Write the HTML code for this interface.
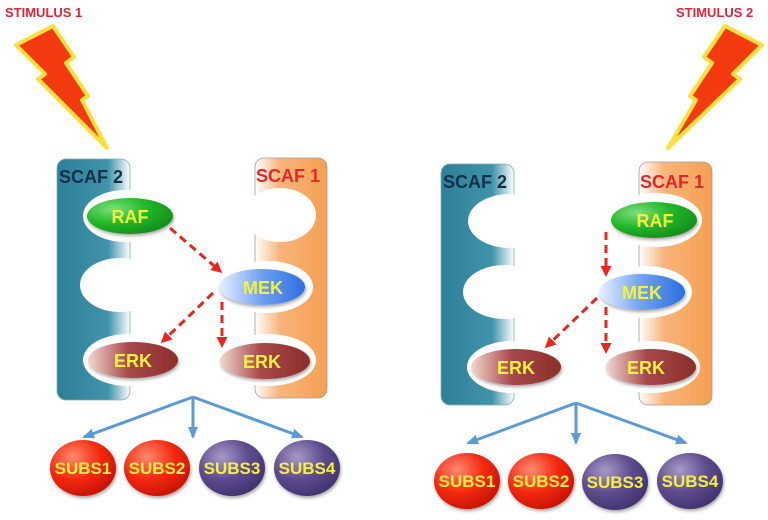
<!DOCTYPE html>
<html><head><meta charset="utf-8"><style>
html,body{margin:0;padding:0;background:#fff;}
svg{display:block;}
text{font-family:"Liberation Sans",sans-serif;font-weight:bold;}
</style></head><body>
<svg width="768" height="520" viewBox="0 0 768 520" xmlns="http://www.w3.org/2000/svg">
<defs>
<linearGradient id="teal" x1="0" x2="1" y1="0" y2="0">
<stop offset="0" stop-color="#2e7f98"/><stop offset="0.7" stop-color="#3f93aa"/><stop offset="1" stop-color="#ffffff"/></linearGradient>
<linearGradient id="orange" x1="0" x2="1" y1="0" y2="0">
<stop offset="0" stop-color="#ffffff"/><stop offset="0.35" stop-color="#f8b47a"/><stop offset="1" stop-color="#f4a052"/></linearGradient>
<radialGradient id="green" cx="0.3" cy="0.3" r="0.8"><stop offset="0" stop-color="#7be07b"/><stop offset="0.5" stop-color="#22b82a"/><stop offset="1" stop-color="#128a18"/></radialGradient>
<linearGradient id="blue" x1="0" x2="1"><stop offset="0" stop-color="#e8f0ff"/><stop offset="0.5" stop-color="#6ea0f0"/><stop offset="1" stop-color="#2c6ee0"/></linearGradient>
<linearGradient id="brown" x1="0" x2="1"><stop offset="0" stop-color="#f0d8d0"/><stop offset="0.45" stop-color="#a8484a"/><stop offset="1" stop-color="#8a2f2a"/></linearGradient>
<radialGradient id="red" cx="0.35" cy="0.3" r="0.8"><stop offset="0" stop-color="#ff8a70"/><stop offset="0.5" stop-color="#f42a10"/><stop offset="1" stop-color="#c01000"/></radialGradient>
<radialGradient id="purple" cx="0.35" cy="0.3" r="0.8"><stop offset="0" stop-color="#a898c8"/><stop offset="0.5" stop-color="#5e4c8e"/><stop offset="1" stop-color="#3e2e6a"/></radialGradient>
<marker id="ra" markerWidth="11" markerHeight="11" refX="8" refY="5.5" orient="auto" markerUnits="userSpaceOnUse"><path d="M0,0 L11,5.5 L0,11 z" fill="#e8261c"/></marker>
<marker id="ba" markerWidth="12" markerHeight="10" refX="10" refY="5" orient="auto" markerUnits="userSpaceOnUse"><path d="M0,0 L12,5 L0,10 z" fill="#5b9bd5"/></marker>
<filter id="sh" x="-20%" y="-20%" width="140%" height="150%"><feDropShadow dx="1" dy="2" stdDeviation="1.5" flood-color="#000" flood-opacity="0.35"/></filter>
</defs>

<text x="5" y="17" font-size="13" fill="#d8283a">STIMULUS 1</text>
<text x="676" y="17" font-size="13" fill="#d8283a">STIMULUS 2</text>
<polygon points="53,26 16,45 45,74 38,79 107,148 82,100 88,96 66,63 74,57" fill="#f43a10" stroke="#f8e040" stroke-width="4" stroke-linejoin="round"/>
<polygon points="725,26 762,45 733,74 740,79 668,148 696,100 690,96 712,63 704,57" fill="#f43a10" stroke="#f8e040" stroke-width="4" stroke-linejoin="round"/>

<!-- LEFT PANEL -->
<rect x="57" y="159" width="73" height="241" rx="9" fill="url(#teal)" stroke="#8aa" stroke-width="0.8"/>
<rect x="255" y="158" width="72" height="240" rx="9" fill="url(#orange)" stroke="#a99" stroke-width="0.8"/>
<ellipse cx="125" cy="216" rx="42" ry="26" fill="#fff"/>
<ellipse cx="120" cy="285" rx="40" ry="27" fill="#fff"/>
<ellipse cx="128" cy="360" rx="45" ry="26" fill="#fff"/>
<ellipse cx="280" cy="215" rx="36" ry="27" fill="#fff"/>
<ellipse cx="268" cy="287" rx="45" ry="26" fill="#fff"/>
<ellipse cx="268" cy="360" rx="48" ry="26" fill="#fff"/>
<text x="59" y="183" font-size="18" fill="#14304a">SCAF 2</text>
<text x="256" y="182" font-size="18" fill="#e02828">SCAF 1</text>

<ellipse cx="130" cy="216" rx="43" ry="18" fill="url(#green)" filter="url(#sh)"/>
<text x="130" y="223" font-size="18" fill="#f4f040" text-anchor="middle">RAF</text>
<ellipse cx="262" cy="287" rx="43" ry="18" fill="url(#blue)" filter="url(#sh)"/>
<text x="263" y="294" font-size="18" fill="#f4f040" text-anchor="middle">MEK</text>
<ellipse cx="133" cy="360" rx="45" ry="18" fill="url(#brown)" filter="url(#sh)"/>
<text x="133" y="367" font-size="18" fill="#f4f040" text-anchor="middle">ERK</text>
<ellipse cx="265" cy="361" rx="45" ry="18" fill="url(#brown)" filter="url(#sh)"/>
<text x="262" y="368" font-size="18" fill="#f4f040" text-anchor="middle">ERK</text>

<g stroke="#e8261c" stroke-width="3" stroke-dasharray="8,5" fill="none">
<line x1="170" y1="228" x2="220" y2="271" marker-end="url(#ra)"/>
<line x1="213" y1="293" x2="163" y2="341" marker-end="url(#ra)"/>
<line x1="222" y1="302" x2="222" y2="345" marker-end="url(#ra)"/>
</g>
<g stroke="#5b9bd5" stroke-width="3" fill="none">
<line x1="193" y1="397" x2="84" y2="437" marker-end="url(#ba)"/>
<line x1="193" y1="397" x2="193" y2="437" marker-end="url(#ba)"/>
<line x1="193" y1="397" x2="302" y2="437" marker-end="url(#ba)"/>
</g>
<g font-size="17" fill="#f4f040" text-anchor="middle">
<ellipse cx="83" cy="468" rx="33" ry="28" fill="url(#red)" filter="url(#sh)"/><text x="83" y="474">SUBS1</text>
<ellipse cx="157" cy="468" rx="33" ry="28" fill="url(#red)" filter="url(#sh)"/><text x="157" y="474">SUBS2</text>
<ellipse cx="232" cy="468" rx="33" ry="28" fill="url(#purple)" filter="url(#sh)"/><text x="232" y="474">SUBS3</text>
<ellipse cx="307" cy="468" rx="33" ry="28" fill="url(#purple)" filter="url(#sh)"/><text x="307" y="474">SUBS4</text>
</g>

<!-- RIGHT PANEL -->
<rect x="441" y="164" width="73" height="241" rx="9" fill="url(#teal)" stroke="#8aa" stroke-width="0.8"/>
<rect x="639" y="162" width="73" height="243" rx="9" fill="url(#orange)" stroke="#a99" stroke-width="0.8"/>
<ellipse cx="510" cy="221" rx="42" ry="27" fill="#fff"/>
<ellipse cx="505" cy="292" rx="42" ry="27" fill="#fff"/>
<ellipse cx="512" cy="367" rx="45" ry="26" fill="#fff"/>
<ellipse cx="656" cy="220" rx="46" ry="27" fill="#fff"/>
<ellipse cx="646" cy="292" rx="46" ry="26" fill="#fff"/>
<ellipse cx="652" cy="367" rx="48" ry="26" fill="#fff"/>
<text x="443" y="188" font-size="18" fill="#14304a">SCAF 2</text>
<text x="640" y="188" font-size="18" fill="#e02828">SCAF 1</text>

<ellipse cx="654" cy="220" rx="43" ry="18" fill="url(#green)" filter="url(#sh)"/>
<text x="655" y="227" font-size="18" fill="#f4f040" text-anchor="middle">RAF</text>
<ellipse cx="642" cy="292" rx="43" ry="18" fill="url(#blue)" filter="url(#sh)"/>
<text x="642" y="299" font-size="18" fill="#f4f040" text-anchor="middle">MEK</text>
<ellipse cx="516" cy="367" rx="45" ry="18" fill="url(#brown)" filter="url(#sh)"/>
<text x="516" y="374" font-size="18" fill="#f4f040" text-anchor="middle">ERK</text>
<ellipse cx="651" cy="367" rx="45" ry="18" fill="url(#brown)" filter="url(#sh)"/>
<text x="646" y="374" font-size="18" fill="#f4f040" text-anchor="middle">ERK</text>

<g stroke="#e8261c" stroke-width="3" stroke-dasharray="8,5" fill="none">
<line x1="606" y1="232" x2="606" y2="274" marker-end="url(#ra)"/>
<line x1="597" y1="298" x2="547" y2="346" marker-end="url(#ra)"/>
<line x1="606" y1="307" x2="606" y2="351" marker-end="url(#ra)"/>
</g>
<g stroke="#5b9bd5" stroke-width="3" fill="none">
<line x1="576" y1="403" x2="468" y2="443" marker-end="url(#ba)"/>
<line x1="576" y1="403" x2="576" y2="443" marker-end="url(#ba)"/>
<line x1="576" y1="403" x2="686" y2="443" marker-end="url(#ba)"/>
</g>
<g font-size="17" fill="#f4f040" text-anchor="middle">
<ellipse cx="467" cy="481" rx="33" ry="28" fill="url(#red)" filter="url(#sh)"/><text x="467" y="487">SUBS1</text>
<ellipse cx="541" cy="481" rx="33" ry="28" fill="url(#red)" filter="url(#sh)"/><text x="541" y="487">SUBS2</text>
<ellipse cx="615" cy="482" rx="33" ry="28" fill="url(#purple)" filter="url(#sh)"/><text x="615" y="488">SUBS3</text>
<ellipse cx="690" cy="481" rx="33" ry="28" fill="url(#purple)" filter="url(#sh)"/><text x="690" y="487">SUBS4</text>
</g>
</svg>
</body></html>
